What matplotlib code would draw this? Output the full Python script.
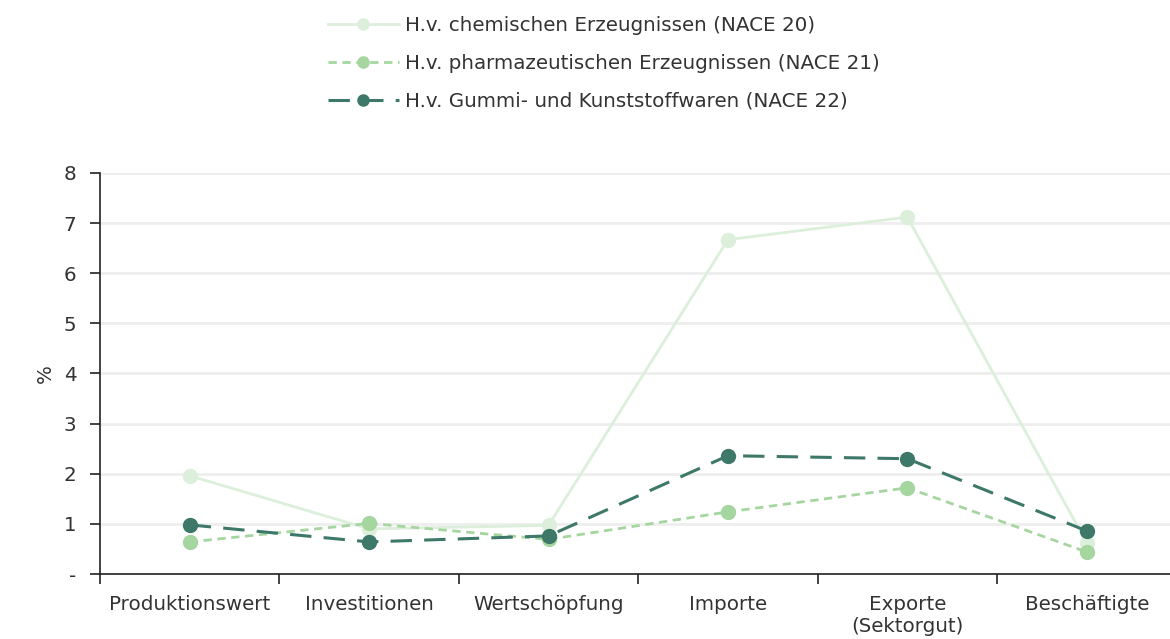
import numpy as np
import matplotlib.pyplot as plt

plt.rcParams['font.family'] = ['DejaVu Sans']

kategorien = ['Produktionswert', 'Investitionen', 'Wertschöpfung', 'Importe', 'Exporte\n(Sektorgut)', 'Beschäftigte']
nace20 = [1.96, 0.90, 0.97, 6.67, 7.12, 0.62]
nace21 = [0.64, 1.01, 0.69, 1.24, 1.72, 0.44]
nace22 = [0.98, 0.64, 0.76, 2.36, 2.30, 0.86]
labels = ['H.v. chemischen Erzeugnissen (NACE 20)',
          'H.v. pharmazeutischen Erzeugnissen (NACE 21)',
          'H.v. Gummi- und Kunststoffwaren (NACE 22)']

fs = 14.3
fig = plt.figure(figsize=(11.7, 6.39), dpi=100)
ax = fig.add_axes([0.0855, 0.1017, 0.92, 0.6276])

x = np.arange(len(kategorien))
ax.plot(x, nace20, color='#dcefdb', lw=2, marker='o', ms=10, label=labels[0], zorder=2)
ax.plot(x, nace21, color='#a6d6a0', lw=2, ls=(0, (3, 2)), marker='o', ms=10, label=labels[1], zorder=3)
ax.plot(x, nace22, color='#3d7868', lw=2.2, ls=(0, (7, 4)), marker='o', ms=10, label=labels[2], zorder=4)

ax.set_xlim(-0.5, 5.5)
ax.set_ylim(0, 8)
ax.set_yticks(range(9))
ax.set_yticklabels(['-'] + [str(i) for i in range(1, 9)], fontsize=fs, color='#333333')
ax.set_xticks(x)
ax.set_xticklabels(kategorien, fontsize=fs, color='#333333')
ax.set_xticks(np.arange(-0.5, 5.6, 1), minor=True)
ax.tick_params(axis='x', which='major', length=0, pad=15)
ax.tick_params(axis='x', which='minor', length=7, width=1.2, color='#222222')
ax.tick_params(axis='y', length=7, width=1.2, color='#222222', pad=10)
ax.grid(axis='y', color='#eeeeee', lw=2)
ax.set_axisbelow(True)
for s in ['top', 'right']:
    ax.spines[s].set_visible(False)
for s in ['left', 'bottom']:
    ax.spines[s].set_color('#222222')
    ax.spines[s].set_linewidth(1.2)
ax.set_ylabel('%', fontsize=fs, color='#333333', labelpad=6)

leg = fig.legend(loc='upper center', bbox_to_anchor=(0.516, 1.003), frameon=False, fontsize=fs,
                 handlelength=3.6, labelspacing=0.95, handletextpad=0.3, labelcolor='#333333',
                 markerscale=0.8)

fig.savefig('out.png', dpi=100)
